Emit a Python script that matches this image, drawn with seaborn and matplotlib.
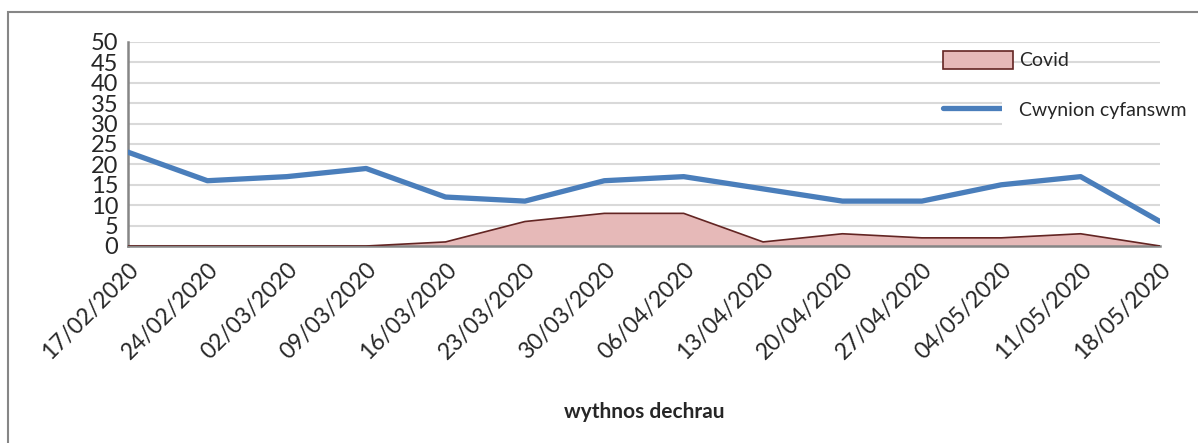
import matplotlib
matplotlib.use('Agg')
import pandas as pd
import seaborn as sns
import matplotlib.pyplot as plt
from matplotlib.patches import Rectangle, Patch
from matplotlib.lines import Line2D

# Data
weeks = ['17/02/2020', '24/02/2020', '02/03/2020', '09/03/2020', '16/03/2020',
         '23/03/2020', '30/03/2020', '06/04/2020', '13/04/2020', '20/04/2020',
         '27/04/2020', '04/05/2020', '11/05/2020', '18/05/2020']
total_complaints = [23, 16, 17, 19, 12, 11, 16, 17, 14, 11, 11, 15, 17, 6]
covid = [0, 0, 0, 0, 1, 6, 8, 8, 1, 3, 2, 2, 3, 0]

df = pd.DataFrame({'week': weeks, 'total': total_complaints, 'covid': covid})

sns.set_style('white')
plt.rcParams['font.family'] = ['Lato', 'DejaVu Sans']

fig = plt.figure(figsize=(11.98, 4.43), dpi=100)
ax = fig.add_axes([128 / 1198, 1 - 246 / 443, (1160 - 128) / 1198, (246 - 42) / 443])

# outer chart border (cut off on right/bottom like the original)
fig.patches.append(Rectangle((8 / 1198, -0.1), 1.2, 1 - 12 / 443 + 0.1,
                             transform=fig.transFigure, fill=False,
                             edgecolor='#868686', linewidth=1.5, zorder=0))

area_fill = '#e6b9b8'
area_edge = '#632523'
blue = '#4a7ebb'

ax.fill_between(df['week'], df['covid'], 0, facecolor=area_fill, edgecolor='none', zorder=2)
sns.lineplot(data=df, x='week', y='covid', ax=ax, color=area_edge, linewidth=1.2, zorder=3)
sns.lineplot(data=df, x='week', y='total', ax=ax, color=blue, linewidth=3.8, zorder=4)

ax.set_xlim(0, len(weeks) - 1)
ax.set_ylim(0, 50)
ax.set_yticks(range(0, 51, 5))
ax.yaxis.grid(True, color='#d9d9d9', linewidth=1.5, zorder=0)
ax.xaxis.grid(False)
ax.set_axisbelow(True)

for side in ['top', 'right']:
    ax.spines[side].set_visible(False)
for side in ['left', 'bottom']:
    ax.spines[side].set_color('#868686')
    ax.spines[side].set_linewidth(1.8)

ax.tick_params(axis='both', which='both', direction='out', length=6, width=1.5,
               color='#868686', labelsize=17, pad=3)
ax.tick_params(axis='y', pad=1)
ax.tick_params(axis='x', labelsize=16.5)
ax.set_xticks(range(len(weeks)))
ax.set_xticklabels(weeks, rotation=45, ha='right', rotation_mode='anchor')

ax.set_ylabel('')
ax.set_xlabel('wythnos dechrau', fontsize=15, fontweight='bold', labelpad=28)

handles = [Patch(facecolor=area_fill, edgecolor=area_edge, linewidth=1.2),
           Line2D([0], [0], color=blue, linewidth=3.8)]
leg = ax.legend(handles, ['Covid', 'Cwynion cyfanswm'], loc='upper left',
                bbox_to_anchor=(0.782, 0.995), frameon=False, fontsize=14,
                handlelength=3.6, handleheight=1.05, labelspacing=1.6,
                handletextpad=0.3, borderaxespad=0)
leg.get_texts()[1].set_bbox(dict(facecolor='white', edgecolor='none', pad=12))
leg.set_zorder(10)

fig.savefig('out.png', dpi=100)
